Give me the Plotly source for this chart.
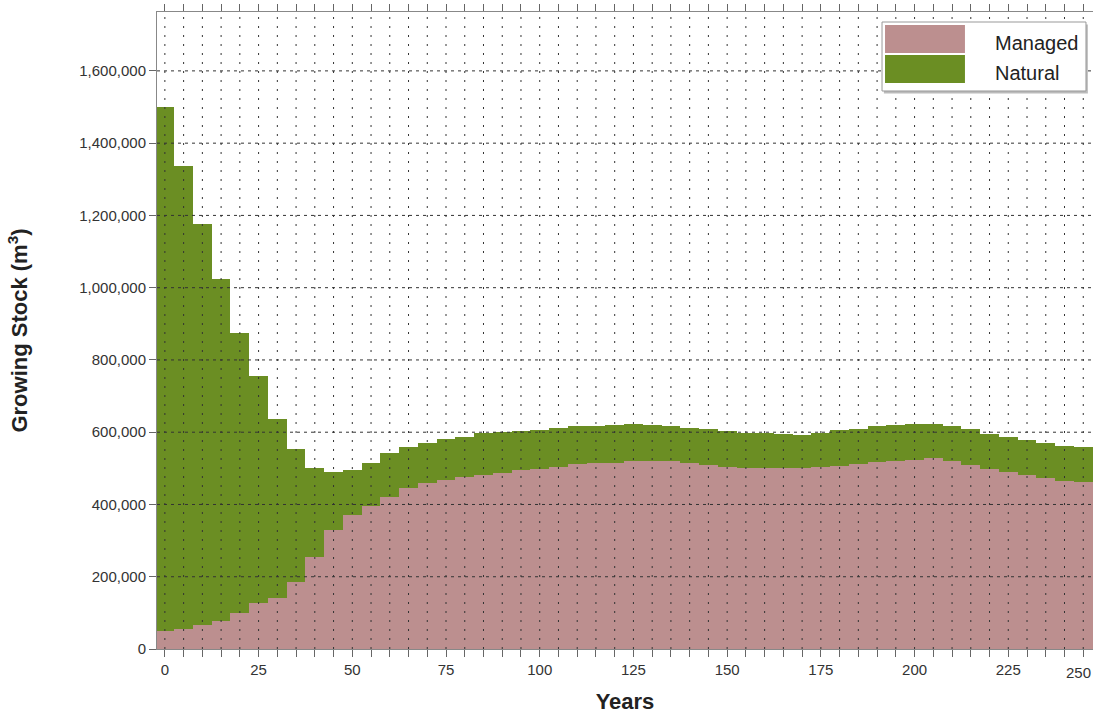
import plotly.graph_objects as go

years = list(range(0, 255, 5))
managed = [51000, 55000, 66000, 78000, 99000, 127000, 141000, 186000, 256000, 330000,
           371000, 396000, 422000, 445000, 459000, 468000, 477000, 482000, 488000, 496000,
           499000, 505000, 512000, 514000, 516000, 519000, 519000, 519000, 515000, 510000,
           503000, 500000, 500000, 500000, 500000, 503000, 507000, 513000, 518000, 519000,
           524000, 528000, 519000, 510000, 498000, 491000, 482000, 473000, 466000, 461000,
           461000]
natural = [1449000, 1283000, 1109000, 947000, 776000, 628000, 496000, 368000, 244000, 161000,
           125000, 120000, 120000, 113000, 111000, 113000, 111000, 115000, 112000, 108000,
           108000, 106000, 106000, 104000, 104000, 104000, 101000, 97000, 97000, 98000,
           99000, 99000, 98000, 94000, 93000, 95000, 98000, 97000, 98000, 101000,
           99000, 94000, 98000, 100000, 98000, 96000, 97000, 97000, 96000, 97000,
           97000]
series_names = ["Managed", "Natural"]
series_colors = ["#BC8F8F", "#6B8E23"]
y_ticks = list(range(0, 1600001, 200000))
x_ticks = list(range(0, 251, 25))

FONT = "Liberation Sans, Arial, sans-serif"

fig = go.Figure()
for name, vals, col in zip(series_names, [managed, natural], series_colors):
    fig.add_trace(go.Bar(x=years, y=vals, name=name, marker=dict(color=col, line=dict(width=0)),
                         showlegend=False))

shapes = []
# vertical dotted grid every 5 years (drawn above the fills)
for v in range(0, 250, 5):
    shapes.append(dict(type="line", xref="x", yref="paper", x0=v, x1=v, y0=0, y1=1,
                       layer="above", line=dict(color="#333333", width=1, dash="2px,7px")))
# horizontal dashed grid on major ticks
for v in y_ticks[1:]:
    shapes.append(dict(type="line", xref="paper", yref="y", x0=0, x1=1, y0=v, y1=v,
                       layer="above", line=dict(color="#333333", width=1, dash="3px,4px")))

# custom legend (wide swatches like the reference)
lx0, lx1, ly0, ly1 = 0.7746, 0.9925, 0.8760, 0.9843
shapes.append(dict(type="rect", xref="paper", yref="paper", x0=lx0 + 0.002, x1=lx1 + 0.002,
                   y0=ly0 - 0.004, y1=ly1 - 0.004, layer="above",
                   line=dict(width=0), fillcolor="rgba(120,120,120,0.5)"))
shapes.append(dict(type="rect", xref="paper", yref="paper", x0=lx0, x1=lx1, y0=ly0, y1=ly1,
                   layer="above", line=dict(color="#999999", width=1), fillcolor="white"))
sw = [(0.9356, 0.9796), (0.8885, 0.9325)]
annotations = []
for (y0, y1), name, col in zip(sw, series_names, series_colors):
    shapes.append(dict(type="rect", xref="paper", yref="paper", x0=0.7778, x1=0.8632,
                       y0=y0, y1=y1, layer="above", line=dict(width=0), fillcolor=col))
    annotations.append(dict(xref="paper", yref="paper", x=0.8935, y=(y0 + y1) / 2, yshift=-4,
                            text=name, showarrow=False, xanchor="left", yanchor="middle",
                            font=dict(family=FONT, size=20, color="#222222")))

# last tick label, which sits at the clipped right edge in the reference
annotations.append(dict(xref="paper", yref="paper", x=1.0, y=0, yshift=-23, text="250",
                        showarrow=False, xanchor="right", yanchor="middle",
                        font=dict(family=FONT, size=15, color="#333333")))

fig.update_layout(
    width=1093, height=714,
    margin=dict(l=157, r=0, t=12, b=65),
    barmode="stack", bargap=0,
    plot_bgcolor="white", paper_bgcolor="white",
    font=dict(family=FONT, size=15, color="#333333"),
    shapes=shapes, annotations=annotations,
    xaxis=dict(range=[-2.1, 247.6], tickvals=x_ticks, ticks="outside", ticklen=7,
               tickcolor="#666666", showgrid=False, zeroline=False,
               showline=True, linecolor="#888888", linewidth=1, mirror="allticks",
               tickfont=dict(size=15),
               minor=dict(dtick=5, tick0=0, ticks="outside", ticklen=7, tickcolor="#666666",
                          showgrid=False),
               title=dict(text="<b>Years</b>", font=dict(family=FONT, size=22, color="#222222"),
                          standoff=19),
               automargin=False, layer="above traces"),
    yaxis=dict(range=[0, 1763000], tickvals=y_ticks, tickformat=",", ticks="outside",
               ticklen=7, tickcolor="#666666", showgrid=False, zeroline=False,
               showline=True, linecolor="#888888", linewidth=1, tickfont=dict(size=15),
               title=dict(text="<b>Growing Stock (m<sup>3</sup>)</b>",
                          font=dict(family=FONT, size=22, color="#222222"), standoff=45),
               automargin=False, layer="above traces"),
)

fig.write_html("out.html")
